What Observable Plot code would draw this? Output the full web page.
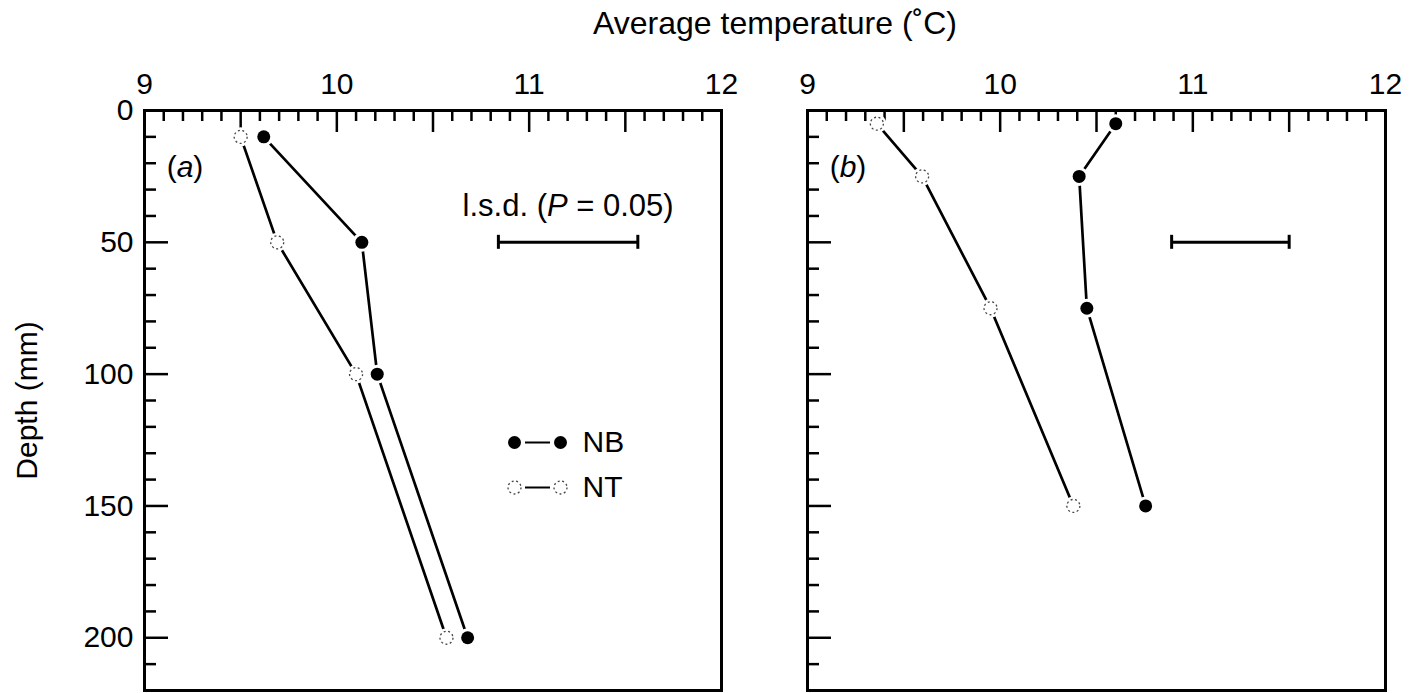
<!DOCTYPE html>
<html>
<head>
<meta charset="utf-8">
<script src="https://cdn.jsdelivr.net/npm/d3@7"></script>
<script src="https://cdn.jsdelivr.net/npm/@observablehq/plot@0.6"></script>
<style>
  body { margin: 0; background: #fff; }
  #wrap { position: relative; width: 1415px; height: 693px; overflow: hidden;
          font-family: "Liberation Sans", Arial, Helvetica, sans-serif; }
  #plots { position: absolute; left: 0; top: 0; display: flex; }
  #title { position: absolute; left: 555px; width: 440px; top: 7px; text-align: center;
           font-size: 32px; line-height: 32px; color: #000; }
</style>
</head>
<body>
<div id="wrap">
  <div id="plots"></div>
  <div id="title">Average temperature (˚C)</div>
</div>
<script>
// ---- data ----
const seriesNames = ["NB", "NT"];

// panel (a)
const depthA = [10, 50, 100, 200];
const nbA    = [9.62, 10.13, 10.21, 10.68];
const ntA    = [9.50, 9.69, 10.10, 10.57];
const lsdA   = { lo: 10.84, hi: 11.565, depth: 50 };

// panel (b)
const depthB = [5, 25, 75, 150];
const nbB    = [10.60, 10.41, 10.45, 10.755];
const ntB    = [9.36, 9.595, 9.95, 10.38];
const lsdB   = { lo: 10.89, hi: 11.50, depth: 50 };

// axes
const xLabels = [9, 10, 11, 12];
const xMajor  = [9.5, 10, 10.5, 11, 11.5];
const xMinor  = d3.range(91, 120).filter(d => d % 5 !== 0).map(d => d / 10);
const yLabels = [0, 50, 100, 150, 200];
const yMajor  = [50, 100, 150, 200];
const yMinor  = d3.range(10, 220, 10).filter(d => d % 50 !== 0);
const xDomain = [9, 12];
const yDomain = [0, 220];

const FONT = "Liberation Sans, Arial, Helvetica, sans-serif";
const H = 693, MT = 110, MB = 3;

const lineSymbol = {
  draw(context, size) {
    const r = Math.sqrt(size / Math.PI);
    context.moveTo(-r, 0);
    context.lineTo(r, 0);
  }
};

function italicize(svg, full, before, ital, after) {
  svg.querySelectorAll("text").forEach(t => {
    if (t.textContent === full) {
      while (t.firstChild) t.removeChild(t.firstChild);
      t.append(before);
      const ts = document.createElementNS("http://www.w3.org/2000/svg", "tspan");
      ts.setAttribute("font-style", "italic");
      ts.textContent = ital;
      t.append(ts, after);
    }
  });
}

function panel({label, depth, nb, nt, lsd, first, width, marginLeft, marginRight}) {
  const pw = width - marginLeft - marginRight;
  const ph = H - MT - MB;
  const rows = [];
  depth.forEach((d, i) => {
    rows.push({series: seriesNames[0], depth: d, temp: nb[i]});
    rows.push({series: seriesNames[1], depth: d, temp: nt[i]});
  });
  const marks = [
    Plot.tickX(xMinor, {x: d => d, insetBottom: ph - 11, stroke: "black", strokeWidth: 2.5}),
    Plot.tickX(xMajor, {x: d => d, insetBottom: ph - 22, stroke: "black", strokeWidth: 2.5}),
    Plot.tickY(yMinor, {y: d => d, insetRight: pw - 12, stroke: "black", strokeWidth: 2.5}),
    Plot.tickY(yMajor, {y: d => d, insetRight: pw - 24, stroke: "black", strokeWidth: 2.5}),
    Plot.frame({stroke: "black", strokeWidth: 3}),
    Plot.text(xLabels, {x: d => d, frameAnchor: "top", lineAnchor: "middle", dy: -26, fontSize: 30}),
    Plot.line(rows, {x: "temp", y: "depth", z: "series", stroke: "black", strokeWidth: 2.7}),
    Plot.dot(rows, {x: "temp", y: "depth", r: 9.5, fill: "white"}),
    Plot.dot(rows.filter(d => d.series === "NB"), {x: "temp", y: "depth", r: 6.5, fill: "black"}),
    Plot.dot(rows.filter(d => d.series === "NT"), {x: "temp", y: "depth", r: 6.5, fill: "white",
      stroke: "#444", strokeWidth: 1.3, strokeDasharray: "2,2.5"}),
    Plot.ruleY([lsd], {x1: "lo", x2: "hi", y: "depth", stroke: "black", strokeWidth: 3}),
    Plot.ruleX([lsd], {x: "lo", y1: "depth", y2: "depth", insetTop: -7, insetBottom: -7, stroke: "black", strokeWidth: 3}),
    Plot.ruleX([lsd], {x: "hi", y1: "depth", y2: "depth", insetTop: -7, insetBottom: -7, stroke: "black", strokeWidth: 3}),
    Plot.text([label], {frameAnchor: "top-left", textAnchor: "middle", lineAnchor: "middle",
      dx: 40.5, dy: 57, fontSize: 30})
  ];
  if (first) {
    marks.push(
      Plot.text(yLabels, {y: d => d, frameAnchor: "left", textAnchor: "end", lineAnchor: "middle",
        dx: -11, fontSize: 30}),
      Plot.text(["Depth (mm)"], {frameAnchor: "left", textAnchor: "middle", lineAnchor: "middle",
        rotate: -90, dx: -117, fontSize: 30}),
      Plot.text([lsd], {x: d => (d.lo + d.hi) / 2, y: "depth", dy: -36, text: () => "l.s.d. (P = 0.05)",
        fontSize: 31})
    );
    seriesNames.forEach((name, i) => {
      const dy = 332 + i * 45;
      const open = i === 1;
      const dotOpts = open
        ? {fill: "white", stroke: "#444", strokeWidth: 1.3, strokeDasharray: "2,2.5"}
        : {fill: "black"};
      marks.push(
        Plot.dot([name], {frameAnchor: "top-left", dx: 393, dy, symbol: lineSymbol, r: 12.5,
          fill: "none", stroke: "black", strokeWidth: 2}),
        Plot.dot([name], {frameAnchor: "top-left", dx: 370, dy, r: 6.5, ...dotOpts}),
        Plot.dot([name], {frameAnchor: "top-left", dx: 416, dy, r: 6.5, ...dotOpts}),
        Plot.text([name], {frameAnchor: "top-left", dx: 438, dy, textAnchor: "start",
          lineAnchor: "middle", fontSize: 30})
      );
    });
  }
  const svg = Plot.plot({
    width, height: H,
    marginTop: MT, marginBottom: MB, marginLeft, marginRight,
    x: {domain: xDomain, axis: null},
    y: {domain: yDomain, reverse: true, axis: null},
    style: {fontFamily: FONT, fontSize: "30px", background: "white", color: "black", overflow: "visible"},
    marks
  });
  italicize(svg, "(a)", "(", "a", ")");
  italicize(svg, "(b)", "(", "b", ")");
  italicize(svg, "l.s.d. (P = 0.05)", "l.s.d. (", "P", " = 0.05)");
  return svg;
}

const host = document.getElementById("plots");
host.append(panel({label: "(a)", depth: depthA, nb: nbA, nt: ntA, lsd: lsdA, first: true,
  width: 760, marginLeft: 144, marginRight: 39}));
host.append(panel({label: "(b)", depth: depthB, nb: nbB, nt: ntB, lsd: lsdB, first: false,
  width: 655, marginLeft: 47, marginRight: 30}));
</script>
</body>
</html>
